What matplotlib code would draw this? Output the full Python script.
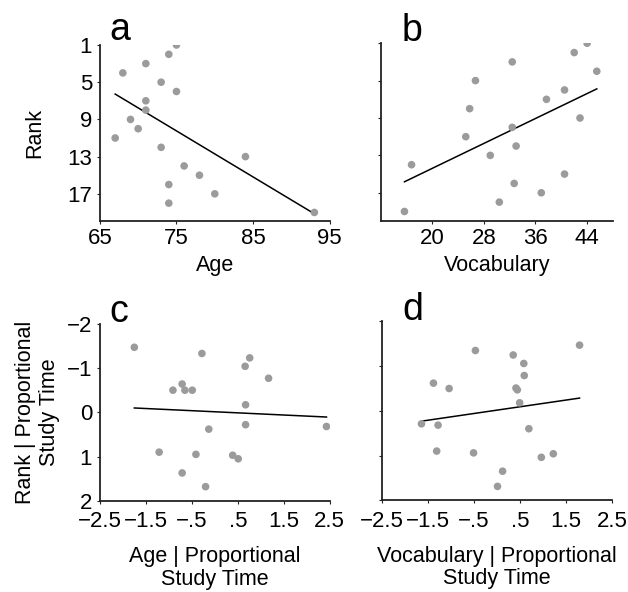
import numpy as np
import matplotlib
matplotlib.use("Agg")
import matplotlib.pyplot as plt

plt.rcParams["font.family"] = ["Liberation Sans", "DejaVu Sans"]

# panel a: age vs rank
age = [75, 74, 71, 68, 73, 75, 71, 71, 69, 70, 67, 73, 84, 76, 78, 74, 80, 74, 93]
rank = list(range(1, 20))
# panel b: vocabulary vs rank
vocab = [44, 42, 32.4, 45.5, 26.7, 40.5, 37.7, 25.8, 42.9, 32.4,
         25.2, 33, 29, 16.8, 40.5, 32.7, 36.9, 30.4, 15.7]
# panel c: partial plot age | study time
age_res = [-1.75, -0.28, 0.76, 0.66, 1.17, -0.71, -0.91, -0.65, -0.49, 0.67,
           -0.13, 0.67, -1.21, -0.41, 0.39, 0.51, -0.71, -0.20, 2.43]
rank_res_c = [-1.47, -1.33, -1.23, -1.04, -0.77, -0.64, -0.50, -0.50, -0.50, -0.17,
              0.38, 0.28, 0.90, 0.95, 0.97, 1.05, 1.37, 1.68, 0.32]
# panel d: partial plot vocabulary | study time
vocab_res = [1.79, -0.47, 0.35, 0.58, 0.59, -1.38, -1.04, 0.41, 0.44, 0.49,
             -1.64, -1.28, 0.69, -1.31, -0.51, 0.96, 1.22, 0.12, 0.01]
rank_res_d = [-1.47, -1.35, -1.25, -1.06, -0.79, -0.62, -0.50, -0.51, -0.47, -0.18,
              0.29, 0.32, 0.40, 0.90, 0.94, 1.04, 0.96, 1.35, 1.69]

rank_ticks = [1, 5, 9, 13, 17]
res_xticks = [-2.5, -1.5, -0.5, 0.5, 1.5, 2.5]
res_xlabels = ["\u22122.5", "\u22121.5", "\u2212.5", ".5", "1.5", "2.5"]
res_yticks = [-2, -1, 0, 1, 2]
res_ylabels = ["\u22122", "\u22121", "0", "1", "2"]

DOT = "#9b9b9b"
INK = "#222222"
FS = 15.5
TFS = 16

fig = plt.figure(figsize=(6.28, 5.92), dpi=100)
ax_a = fig.add_axes([0.159, 0.627, 0.366, 0.297])
ax_b = fig.add_axes([0.606, 0.627, 0.370, 0.300])
ax_c = fig.add_axes([0.159, 0.154, 0.366, 0.299])
ax_d = fig.add_axes([0.608, 0.155, 0.367, 0.302])


def panel(ax, x, y, letter, lx, ly):
    ax.scatter(x, y, s=30, color=DOT, edgecolors="none", zorder=3)
    x = np.asarray(x, float)
    y = np.asarray(y, float)
    k, b = np.polyfit(x, y, 1)
    xs = np.array([x.min(), x.max()])
    ax.plot(xs, k * xs + b, color="black", lw=1.1, zorder=2)
    for s in ("top", "right"):
        ax.spines[s].set_visible(False)
    for s in ("left", "bottom"):
        ax.spines[s].set_linewidth(1.3)
        ax.spines[s].set_color(INK)
    ax.tick_params(length=2.5, width=0.8, color=INK, labelsize=TFS, pad=3)
    ax.text(lx, ly, letter, transform=ax.transAxes, fontsize=27,
            va="baseline", ha="left")


panel(ax_a, age, rank, "a", 0.043, 1.028)
ax_a.set_xlim(65, 95)
ax_a.set_ylim(19.9, 1)
ax_a.set_xticks([65, 75, 85, 95])
ax_a.set_yticks(rank_ticks)
ax_a.set_xlabel("Age", fontsize=FS, labelpad=4)
ax_a.set_ylabel("Rank", fontsize=FS, labelpad=16)

panel(ax_b, vocab, rank, "b", 0.09, 1.015)
ax_b.set_xlim(12, 48)
ax_b.set_ylim(20, 1)
ax_b.set_xticks([20, 28, 36, 44])
ax_b.set_yticks(rank_ticks)
ax_b.set_yticklabels([])
ax_b.set_xlabel("Vocabulary", fontsize=FS, labelpad=4)

for ax, x, y, letter, lx, lab in [
        (ax_c, age_res, rank_res_c, "c", 0.043, "Age | Proportional\nStudy Time"),
        (ax_d, vocab_res, rank_res_d, "d", 0.087, "Vocabulary | Proportional\nStudy Time")]:
    panel(ax, x, y, letter, lx, 1.01)
    ax.set_xlim(-2.5, 2.5)
    ax.set_ylim(2, -2)
    ax.set_xticks(res_xticks)
    ax.set_xticklabels(res_xlabels)
    ax.set_yticks(res_yticks)
    ax.tick_params(axis="x", pad=5)
    ax.set_xlabel(lab, fontsize=FS, labelpad=10, linespacing=1.12)

ax_c.set_yticklabels(res_ylabels)
ax_c.set_ylabel("Rank | Proportional\nStudy Time", fontsize=FS, labelpad=5,
                linespacing=1.2)
ax_d.set_yticklabels([])

fig.savefig("out.png", dpi=100, facecolor="white")
